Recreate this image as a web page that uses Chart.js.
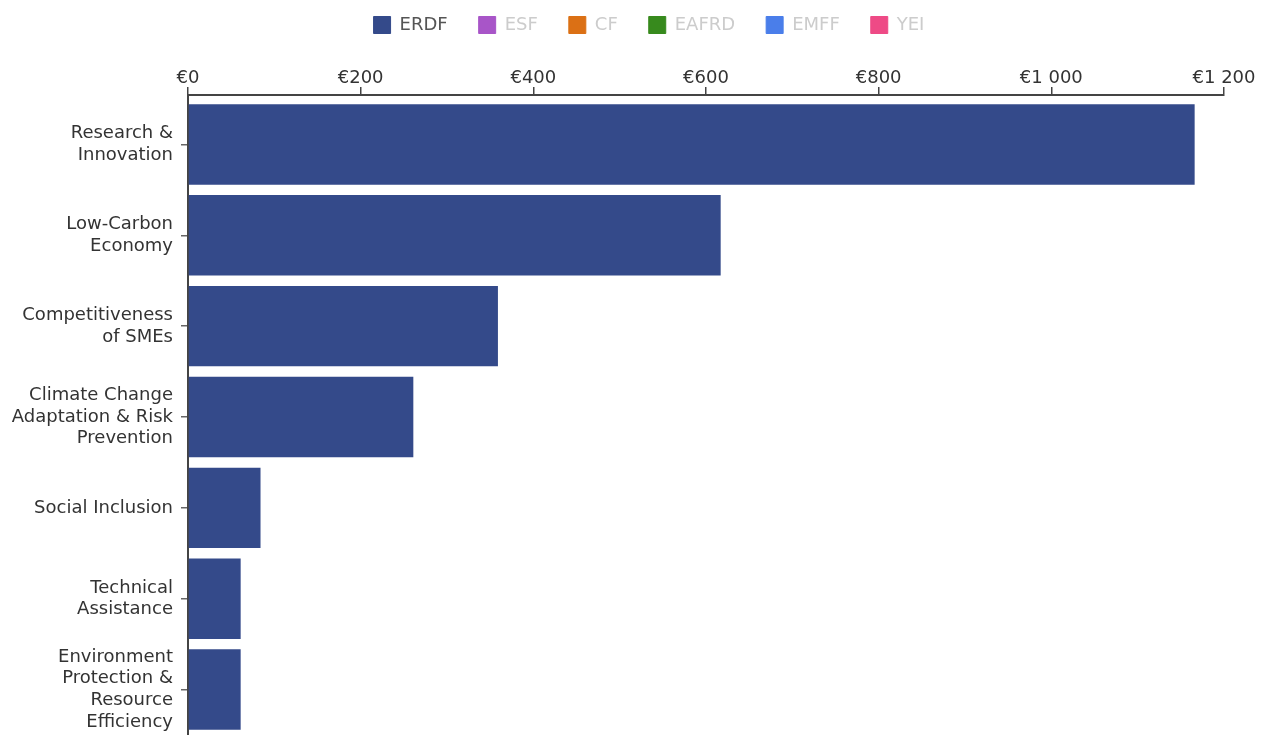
<!DOCTYPE html>
<html>
<head>
<meta charset="utf-8">
<script src="https://cdn.jsdelivr.net/npm/chart.js@4.4.1/dist/chart.umd.min.js"></script>
<style>
  html, body { margin: 0; background: #fff; overflow: hidden; }
  #wrap { position: relative; width: 1265px; height: 735px; overflow: hidden; }
  #chart { position: absolute; left: 0; top: -17px; }
</style>
</head>
<body>
<div id="wrap"><canvas id="chart" width="1265" height="752"></canvas></div>
<script>
// Thematic objectives, top to bottom
const categories = [
  ['Research &', 'Innovation'],
  ['Low-Carbon', 'Economy'],
  ['Competitiveness', 'of SMEs'],
  ['Climate Change', 'Adaptation & Risk', 'Prevention'],
  'Social Inclusion',
  ['Technical', 'Assistance'],
  ['Environment', 'Protection &', 'Resource', 'Efficiency']
];

// ERDF amounts (million €)
const erdfValues = [1166, 617, 359, 261, 84, 61, 61];

// Funds in the legend; only ERDF is switched on
const fundNames = ['ERDF', 'ESF', 'CF', 'EAFRD', 'EMFF', 'YEI'];
const fundColors = ['#344a8a', '#a855c8', '#db7015', '#378a1d', '#4a7eea', '#ee4a86'];
const fundVisible = [true, false, false, false, false, false];

const xTickValues = [0, 200, 400, 600, 800, 1000, 1200];

const FONT = '"DejaVu Sans", Verdana, sans-serif';

function euro(v) {
  return '€' + String(v).replace(/\B(?=(\d{3})+(?!\d))/g, ' ');
}

const datasets = fundNames.map((name, i) => ({
  label: name,
  // bars sit on a numeric index axis so the band can leave a gap under the x axis
  data: name === 'ERDF' ? erdfValues.map((v, k) => ({ x: v, y: k })) : [],
  backgroundColor: fundColors[i],
  borderColor: fundColors[i],
  borderWidth: 0,
  hidden: !fundVisible[i],
  barPercentage: 0.885,
  categoryPercentage: 1
}));

// nudge the legend so it centres over the page rather than the layout box
const legendShift = {
  id: 'legendShift',
  afterLayout(chart) {
    const lg = chart.legend;
    if (!lg) return;
    lg.left += 37; lg.right += 37;
    lg.top += 2; lg.bottom += 2;
  }
};

new Chart(document.getElementById('chart'), {
  type: 'bar',
  data: { datasets },
  plugins: [legendShift],
  options: {
    indexAxis: 'y',
    responsive: false,
    animation: false,
    layout: { padding: { left: 0, right: 41, top: 0, bottom: 0 } },
    plugins: {
      tooltip: { enabled: false },
      legend: {
        position: 'top',
        onClick: null,
        labels: {
          boxWidth: 17,
          boxHeight: 17,
          padding: 31,
          font: { family: FONT, size: 18 },
          generateLabels: chart => chart.data.datasets.map((ds, i) => ({
            text: ds.label,
            fillStyle: ds.backgroundColor,
            strokeStyle: ds.backgroundColor,
            lineWidth: 1,
            hidden: false,
            fontColor: chart.isDatasetVisible(i) ? '#555' : '#ccc',
            datasetIndex: i
          }))
        }
      }
    },
    scales: {
      x: {
        type: 'linear',
        position: 'top',
        min: 0,
        max: 1200,
        afterBuildTicks: s => { s.ticks = xTickValues.map(v => ({ value: v })); },
        afterFit: s => { s.height = 53; s.paddingRight = 0; s.paddingLeft = 0; },
        border: { display: true, color: '#444', width: 2 },
        grid: { drawOnChartArea: false, drawTicks: true, tickLength: 8, color: '#444', lineWidth: 1.5 },
        ticks: {
          color: '#333',
          padding: -2,
          font: { family: FONT, size: 18 },
          callback: v => euro(v)
        }
      },
      y: {
        type: 'linear',
        reverse: true,
        offset: false,
        min: -0.544,
        max: 6.5,
        afterBuildTicks: s => { s.ticks = categories.map((c, k) => ({ value: k })); },
        afterFit: s => { s.width = 188; s.paddingTop = 0; s.paddingBottom = 0; },
        border: { display: true, color: '#444', width: 2 },
        grid: { offset: false, drawOnChartArea: false, drawTicks: true, tickLength: 7, color: '#666', lineWidth: 1.5 },
        ticks: {
          autoSkip: false,
          color: '#333',
          padding: 8,
          font: { family: FONT, size: 18, lineHeight: 1.2 },
          callback: v => categories[v]
        }
      }
    }
  }
});
</script>
</body>
</html>
